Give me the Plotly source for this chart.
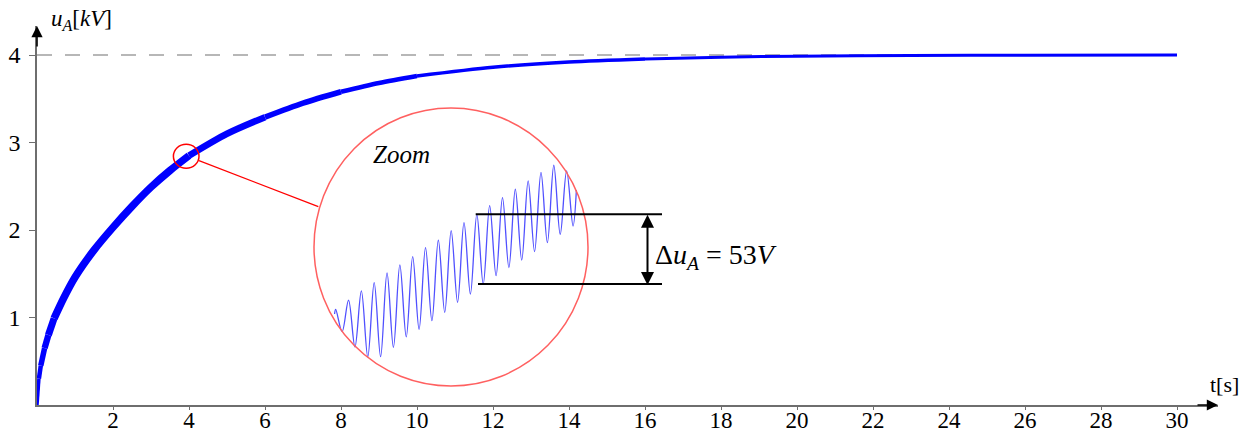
import plotly.graph_objects as go

# ---------------- data ----------------
# main charging curve u_A(t)
t_s = [0, 0.05, 0.1, 0.2, 0.3, 0.45, 0.7, 1, 1.5, 2, 2.5, 3, 3.5, 4, 5, 6, 7, 8, 9, 10,
       12, 14, 16, 18, 20, 23, 26, 30]
u_kv = [0, 0.3, 0.45, 0.65, 0.8, 0.99, 1.22, 1.46, 1.77, 2.03, 2.27, 2.49, 2.68, 2.85,
        3.10, 3.29, 3.45, 3.58, 3.68, 3.76, 3.86, 3.92, 3.955, 3.975, 3.987, 3.995, 3.998, 4.0]

# zoomed ripple: extremes in volts (relative to lower marker), per cycle
zoom_peak_v = [-18.5, -11.5, -4.7, 1.5, 8.8, 14.8, 21.0, 27.8, 33.5, 40.5, 46.5, 52.8,
               59.3, 65.3, 71.6, 77.8, 84.3, 89.6, 85.3]
zoom_trough_v = [-35.2, -46.7, -54.2, -54.0, -47.0, -39.2, -33.5, -27.0, -20.7, -13.2,
                 -7.0, 0.5, 6.8, 12.8, 18.5, 24.8, 31.5, 37.8, 44.0]
zoom_start = (-0.09, -22.0)
zoom_end = (18.76, 71.0)

x_ticks = list(range(2, 31, 2))
y_ticks = [1, 2, 3, 4]
u_final = 4
delta_label = "53"

# ---------------- styles / geometry ----------------
# apparent thickness of the curve (ripple band) per time segment
seg_bounds = [0, 0.05, 0.1, 0.2, 0.3, 0.45, 4, 6, 8, 10, 16, 30]
seg_width = [3.5, 4.5, 5.5, 6.3, 7, 7.5, 6.5, 5.5, 4.5, 3.5, 3]

W, H = 1253, 435
PL, PR, PT, PB = 37, 1218, 26, 405      # plot area in page pixels
PX_PER_S = 38.0
PX_PER_KV = 87.5


def tx(px):
    return (px - PL) / PX_PER_S


def uy(py):
    return (PB - py) / PX_PER_KV


def paper_x(px):
    return (px - PL) / (PR - PL)


def paper_y(py):
    return (PB - py) / (PB - PT)


# inset mapping: cycle index / volts -> page pixels
Z_X0, Z_DX = 335.7, 12.83       # px of first peak, px per cycle
Z_Y0, Z_VPX = 284.7, 0.75       # px of 0 V, volts per px
circ = dict(x0=314, x1=588, y0=108, y1=386)

fig = go.Figure()

# main curve, drawn in segments whose width follows the ripple thickness
for k in range(len(seg_width)):
    a, b = seg_bounds[k], seg_bounds[k + 1]
    xs = [t for t in t_s if a <= t <= b]
    ys = [u for t, u in zip(t_s, u_kv) if a <= t <= b]
    fig.add_trace(go.Scatter(x=xs, y=ys, mode="lines",
                             line=dict(color="#0000ff", width=seg_width[k], shape="spline",
                                       smoothing=0.8),
                             hoverinfo="skip", showlegend=False))

# zoom wave
zx, zy = [zoom_start[0]], [zoom_start[1]]
for i, (p, q) in enumerate(zip(zoom_peak_v, zoom_trough_v)):
    zx += [i, i + 0.5]
    zy += [p, q]
zx.append(zoom_end[0])
zy.append(zoom_end[1])
fig.add_trace(go.Scatter(x=zx, y=zy, xaxis="x2", yaxis="y2", mode="lines",
                         line=dict(color="#5050ff", width=1.3, shape="spline", smoothing=1.0),
                         showlegend=False))

serif = "Liberation Serif"
fig.update_layout(
    width=W, height=H,
    margin=dict(l=PL, r=W - PR, t=PT, b=H - PB, pad=0),
    paper_bgcolor="white", plot_bgcolor="white",
    font=dict(family=serif, size=20, color="black"),
    xaxis=dict(range=[0, (PR - PL) / PX_PER_S], showgrid=False, zeroline=False,
               automargin=False,
               showline=True, linecolor="#6e6e6e", linewidth=1.5,
               tickvals=x_ticks, ticks="outside", ticklen=3, tickcolor="#6e6e6e",
               ticklabelstandoff=-9,
               tickfont=dict(family=serif, size=23)),
    yaxis=dict(range=[0, (PB - PT) / PX_PER_KV], showgrid=False, zeroline=False,
               automargin=False,
               showline=True, linecolor="#6e6e6e", linewidth=1.5,
               tickvals=y_ticks, ticks="outside", ticklen=6, tickcolor="#6e6e6e",
               ticklabelstandoff=4,
               tickfont=dict(family=serif, size=24)),
    xaxis2=dict(domain=[paper_x(circ["x0"]), paper_x(circ["x1"])],
                range=[(circ["x0"] - Z_X0) / Z_DX, (circ["x1"] - Z_X0) / Z_DX],
                anchor="y2", visible=False, automargin=False),
    yaxis2=dict(domain=[paper_y(circ["y1"]), paper_y(circ["y0"])],
                range=[(Z_Y0 - circ["y1"]) * Z_VPX, (Z_Y0 - circ["y0"]) * Z_VPX],
                anchor="x2", visible=False, automargin=False),
)

shapes = []
# dashed asymptote
shapes.append(dict(type="line", xref="x", yref="y", x0=0, x1=29.7, y0=u_final, y1=u_final,
                   line=dict(color="#a0a0a0", width=1.5, dash="15px,13px"), layer="below"))
# inset circle
shapes.append(dict(type="circle", xref="x", yref="y", x0=tx(circ["x0"]), x1=tx(circ["x1"]),
                   y0=uy(circ["y1"]), y1=uy(circ["y0"]),
                   line=dict(color="#ff6060", width=1.5)))
# small circle on curve
shapes.append(dict(type="circle", xref="x", yref="y", x0=tx(173.4), x1=tx(199),
                   y0=uy(168.3), y1=uy(144.3), line=dict(color="#ff0000", width=1.5)))
# connector
shapes.append(dict(type="line", xref="x", yref="y", x0=tx(199), y0=uy(160.7),
                   x1=tx(318.3), y1=uy(206.7), line=dict(color="#ff0000", width=1.3)))
# markers for delta u (at peak / trough no. 11 of the zoomed wave)
top_py = Z_Y0 - zoom_peak_v[11] / Z_VPX
bot_py = Z_Y0 - zoom_trough_v[11] / Z_VPX
shapes.append(dict(type="line", xref="x", yref="y", x0=tx(475.7), x1=tx(662),
                   y0=uy(top_py), y1=uy(top_py), line=dict(color="black", width=2)))
shapes.append(dict(type="line", xref="x", yref="y", x0=tx(478), x1=tx(662),
                   y0=uy(bot_py), y1=uy(bot_py), line=dict(color="black", width=2)))
fig.update_layout(shapes=shapes)

ann = []
# axis arrow heads
ann.append(dict(x=1, y=0, ax=-22, ay=0, xref="paper", yref="paper",
                axref="pixel", ayref="pixel", showarrow=True,
                text="", arrowhead=2, arrowsize=1.4, arrowwidth=1.6, arrowcolor="black"))
ann.append(dict(x=0, y=1, ax=0, ay=22, xref="paper", yref="paper",
                axref="pixel", ayref="pixel", showarrow=True,
                text="", arrowhead=2, arrowsize=1.4, arrowwidth=1.6, arrowcolor="black"))
# double arrow
ann.append(dict(x=tx(647.5), y=uy(bot_py + 1), ax=tx(647.5), ay=uy(top_py - 1),
                xref="x", yref="y", axref="x", ayref="y", showarrow=True, text="",
                arrowhead=2, startarrowhead=2, arrowside="end+start", arrowsize=1.3,
                startarrowsize=1.3, arrowwidth=2, arrowcolor="black"))
# labels
ann.append(dict(x=paper_x(49), y=paper_y(20), xref="paper", yref="paper",
                xanchor="left", yanchor="middle",
                showarrow=False, text="<i>u</i><sub><i>A</i></sub>[<i>kV</i>]",
                font=dict(family=serif, size=23)))
ann.append(dict(x=paper_x(1224), y=paper_y(384), xref="paper", yref="paper",
                xanchor="center", yanchor="middle",
                showarrow=False, text="t[s]", font=dict(family=serif, size=22)))
ann.append(dict(x=tx(401), y=uy(154), xref="x", yref="y", xanchor="center", yanchor="middle",
                showarrow=False, text="<i>Zoom</i>", font=dict(family=serif, size=25)))
ann.append(dict(x=tx(653), y=uy(256), xref="x", yref="y", xanchor="left", yanchor="middle",
                showarrow=False,
                text="Δ<i>u</i><sub><i>A</i></sub> = " + delta_label + "<i>V</i>",
                font=dict(family=serif, size=28)))
fig.update_layout(annotations=ann)

fig.write_html("out.html", config={"displayModeBar": False},
               post_script="document.body.style.margin='0';"
                           "document.body.style.overflow='hidden';")
